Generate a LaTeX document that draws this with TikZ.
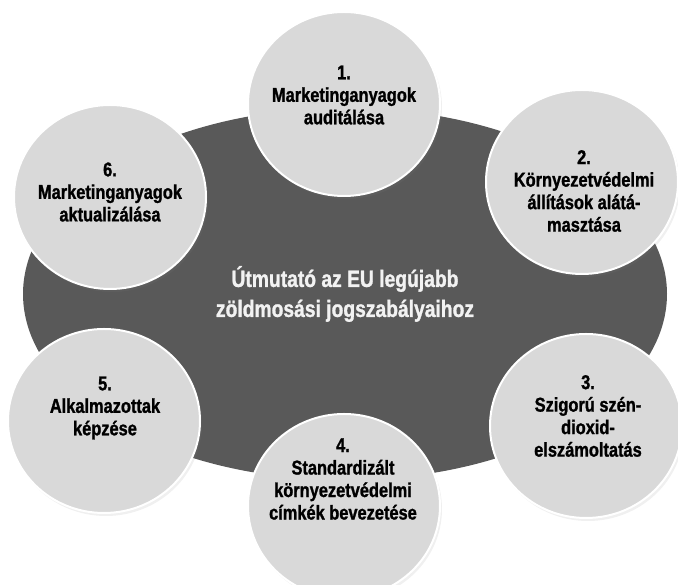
\documentclass[tikz,border=0pt]{standalone}
\usepackage{fontspec}
\setmainfont{Liberation Sans}
\newfontfamily\narrowsans{Liberation Sans Bold}[FakeStretch=0.82, FakeBold=1.2]
\usetikzlibrary{shapes.geometric,shadows}

\begin{document}
\begin{tikzpicture}[x=1pt, y=1pt,
  hub/.style={ellipse, fill=hubgray, minimum width=644pt, minimum height=372pt, inner sep=0pt},
  bubble/.style={ellipse, draw=white, line width=2pt, fill=bubblegray, minimum width=192pt,
    minimum height=184pt, inner sep=0pt,
    drop shadow={opacity=0.12, shadow xshift=2pt, shadow yshift=-3pt}},
  label text/.style={align=center, text=black, font=\narrowsans\fontsize{20}{22.5}\selectfont},
  hub text/.style={align=center, text=hubtext, font=\narrowsans\fontsize{23.5}{30}\selectfont},
  ]
  \definecolor{hubgray}{HTML}{595959}
  \definecolor{bubblegray}{HTML}{D9D9D9}
  \definecolor{hubtext}{HTML}{F2F2F2}
  \useasboundingbox (0,0) rectangle (678,585);

  \node (hub) [hub] at (345,291) {};

  \node (audit)    [bubble] at (344,481) {};
  \node (claims)   [bubble] at (582,403) {};
  \node (carbon)   [bubble] at (586,159) {};
  \node (labels)   [bubble] at (344,79)  {};
  \node (training) [bubble] at (104,164) {};
  \node (update)   [bubble] at (110,388) {};

  \node (hub label) [hub text] at (hub) {Útmutató az EU legújabb\\zöldmosási jogszabályaihoz};

  % texts of the six steps:
  \node (audit label)    [label text] at ([yshift=9pt]audit) {1.\\Marketinganyagok\\auditálása};
  \node (claims label)   [label text] at ([xshift=2pt,yshift=-9pt]claims) {2.\\Környezetvédelmi\\állítások alátá-\\masztása};
  \node (carbon label)   [label text] at ([xshift=2pt,yshift=10pt]carbon) {3.\\Szigorú szén-\\dioxid-\\elszámoltatás};
  \node (labels label)   [label text] at ([xshift=-1pt,yshift=27pt]labels) {4.\\Standardizált\\környezetvédelmi\\címkék bevezetése};
  \node (training label) [label text] at ([xshift=1pt,yshift=13pt]training) {5.\\Alkalmazottak\\képzése};
  \node (update label)   [label text] at ([yshift=5pt]update) {6.\\Marketinganyagok\\aktualizálása};
\end{tikzpicture}
\end{document}
